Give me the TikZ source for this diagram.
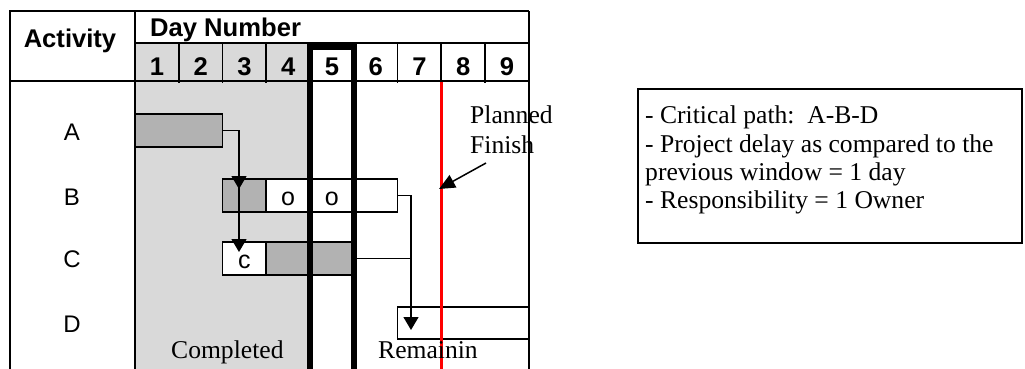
\documentclass[tikz,border=0pt]{standalone}
\usepackage{fontspec}
\setmainfont{Liberation Serif}
\setsansfont{Liberation Sans}
\usetikzlibrary{arrows.meta}
\definecolor{donegrey}{HTML}{D9D9D9}
\definecolor{bargrey}{HTML}{B2B2B2}
\definecolor{finishred}{HTML}{FF0000}
\frenchspacing
\begin{document}
\begin{tikzpicture}[x=1pt,y=-1pt,
  rule/.style={line width=1.6pt},
  heavy/.style={line width=6.5pt, line join=miter},
  seg/.style={draw, line width=1.8pt, minimum height=32.5pt, inner sep=0pt, outer sep=0pt,
    font=\sffamily\fontsize{25}{25}\selectfont, text height=19pt, text depth=0pt},
  wire/.style={line width=1.3pt},
  conn/.style={wire, -{Triangle[width=15pt,length=13pt]}},
  hdr/.style={font=\sffamily\bfseries\fontsize{25.6}{28}\selectfont, inner sep=0pt},
  rowlbl/.style={font=\sffamily\fontsize{24}{28}\selectfont, anchor=base, inner sep=0pt},
  serif/.style={font=\rmfamily\fontsize{25.6}{28}\selectfont, anchor=base west, inner sep=0pt},
]
\useasboundingbox (0,0) rectangle (1025,368);

% shaded part of the schedule: days already completed
\fill[donegrey] (135,43) rectangle (310,372);

% table grid
\draw[rule] (9.2,11) -- (528.75,11);
\draw[rule] (10,11) -- (10,372);
\draw[rule] (135,11) -- (135,372);
\draw[rule] (135,43) -- (528.75,43);
\draw[rule] (10,81) -- (528.75,81);
\foreach \cx in {178.75,222.5,266.25,397.5,441.25,485}
  \draw[rule] (\cx,43) -- (\cx,83);

% header texts
\node[hdr, anchor=base] (acthead) at (70,47) {Activity};
\node[hdr, anchor=base west] (dayhead) at (150,36.5) {Day Number};
\foreach \d in {1,...,9}
  \node[hdr, anchor=base] (day\d) at ({135+43.75*(\d-0.5)},75) {\d};

% activity labels
\node[rowlbl] (labA) at (72,140) {A};
\node[rowlbl] (labB) at (72,205) {B};
\node[rowlbl] (labC) at (72,267) {C};
\node[rowlbl] (labD) at (72,332.6) {D};

% activity bars
\node[seg, fill=bargrey, minimum width=87.5pt] (A) at (178.75,130.5) {};
\node[seg, fill=bargrey, minimum width=43.75pt] (B1) at (244.375,195.5) {};
\node[seg, fill=white, minimum width=43.75pt] (B2) at (288.125,195.5) {o};
\node[seg, fill=white, minimum width=43.75pt] (B3) at (331.875,195.5) {o};
\node[seg, fill=white, minimum width=43.75pt] (B4) at (375.625,195.5) {};
\node[seg, fill=white, minimum width=43.75pt] (C1) at (244.375,258.5) {c};
\node[seg, fill=bargrey, minimum width=87.5pt] (C2) at (310,258.5) {};
\node[seg, fill=white, minimum width=131.25pt] (D) at (463.125,323) {};

% dependencies
\coordinate (tipB) at (239,189);
\coordinate (tipC) at (239,252);
\coordinate (tipD) at (411,330);
\draw[conn] (A.east) -| (tipB);
\draw[conn] (A.east) -| (tipC);
\draw[conn] (B4.east) -| (tipD);
\draw[wire] (C2.east) -- (C2.east -| tipD);

% current window (day 5)
\draw[heavy] (310,372) -- (310,46.25) -- (353.75,46.25) -- (353.75,372);

% planned finish
\coordinate (finTop) at (441.25,82);
\coordinate (finBot) at (441.25,372);
\draw[line width=3.5pt, finishred] (finTop) -- (finBot);

\node[serif] (done) at (171,358) {Completed};
\node[serif] (todo) at (378,358) {Remainin};
\node[serif] (pf1) at (470,123) {Planned};
\node[serif] (pf2) at (470,153) {Finish};
\coordinate (pfFrom) at (486,163);
\coordinate (pfTo) at (439,189);
\draw[wire, line width=1.5pt, -{Triangle[width=14pt,length=16pt]}] (pfFrom) -- (pfTo);

% right border of the table
\draw[rule] (528.75,11) -- (528.75,372);

% notes
\node[draw, line width=1.6pt, minimum width=384pt, minimum height=154pt, inner sep=0pt] (notes) at (830,166) {};
\node[serif] (n1) at (645,123) {- Critical path:\ \ A-B-D};
\node[serif] (n2) at (645,152) {- Project delay as compared to the};
\node[serif] (n3) at (645,180) {previous window = 1 day};
\node[serif] (n4) at (645,208) {- Responsibility = 1 Owner};
\end{tikzpicture}
\end{document}
